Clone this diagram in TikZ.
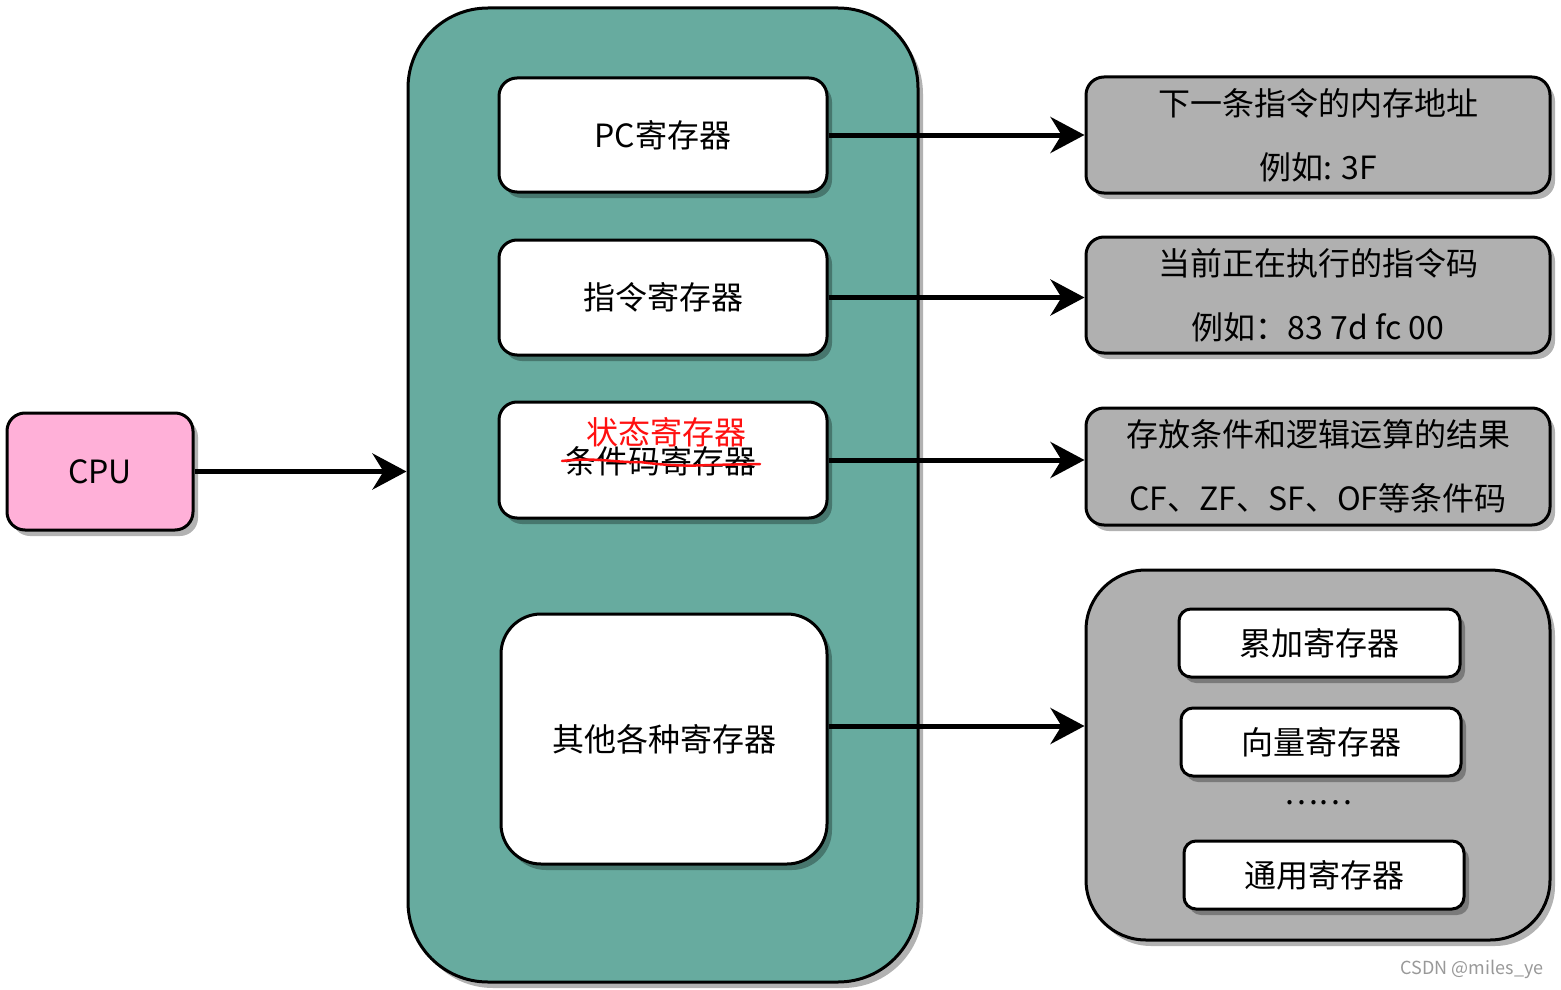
\documentclass[tikz,border=0pt]{standalone}
\usepackage{fontspec}
\setmainfont{Noto Sans CJK SC}
\usetikzlibrary{arrows.meta,shadows}
\definecolor{teal1}{HTML}{67AB9F}
\definecolor{pink1}{HTML}{FFB0D8}
\definecolor{gray1}{HTML}{B0B0B0}
\definecolor{red1}{HTML}{FF1010}
\begin{document}
\begin{tikzpicture}[x=1pt,y=-1pt,
  shd/.style={drop shadow={shadow xshift=5pt,shadow yshift=-6pt,fill=black,opacity=0.3}},
  box/.style={draw=black,line width=3pt,rectangle,rounded corners=#1,shd,inner sep=0pt},
  box/.default=18pt,
  txt/.style={font=\fontsize{32}{64}\selectfont,align=center},
  arr/.style={line width=5pt,-{Stealth[length=34pt,width=36pt,inset=11pt]}}
]
\useasboundingbox[fill=white] (0,0) rectangle (1561,990);
% main block
\node[box=80pt,fill=teal1,minimum width=510pt,minimum height=974pt] (big) at (663,495) {};
\node[box,fill=white,minimum width=328pt,minimum height=114pt,txt] (pc) at (663,135) {PC寄存器};
\node[box,fill=white,minimum width=328pt,minimum height=115pt,txt] (ir) at (663,297.5) {指令寄存器};
\node[box,fill=white,minimum width=328pt,minimum height=116pt] (sr) at (663,460) {};
\node[box=40pt,fill=white,minimum width=326pt,minimum height=250pt,txt] (other) at (664,739) {其他各种寄存器};
\node[txt,text=black,inner sep=0pt] (srold) at (660,461) {条件码寄存器};
\node[txt,text=red1,inner sep=0pt] (srnew) at (666,432) {状态寄存器};
\draw[red1,line width=2.5pt,line cap=round] (562,461) .. controls (600,457) and (615,463) .. (640,462)
  .. controls (670,466) and (690,466) .. (710,465) -- (760,464);
% CPU
\node[box,fill=pink1,minimum width=186pt,minimum height=117pt,txt] (cpu) at (100,471.5) {CPU};
% right side
\node[box,fill=gray1,minimum width=464pt,minimum height=116pt,txt] (r1) at (1318,135) {下一条指令的内存地址\\例如: 3F};
\node[box,fill=gray1,minimum width=464pt,minimum height=116pt,txt] (r2) at (1318,295) {当前正在执行的指令码\\例如：83 7d fc 00};
\node[box,fill=gray1,minimum width=464pt,minimum height=117pt,txt] (r3) at (1318,466.5) {存放条件和逻辑运算的结果\\CF、ZF、SF、OF等条件码};
\node[box=60pt,fill=gray1,minimum width=464pt,minimum height=370pt] (r4) at (1318,755) {};
\node[box=12pt,fill=white,minimum width=281pt,minimum height=68pt,txt] (acc) at (1319.5,643) {累加寄存器};
\node[box=12pt,fill=white,minimum width=280pt,minimum height=68pt,txt] (vec) at (1321,742) {向量寄存器};
\node[txt,inner sep=0pt] (dots) at (1318,803) {……};
\node[box=12pt,fill=white,minimum width=280pt,minimum height=68pt,txt] (gen) at (1324,875) {通用寄存器};
% arrows
\draw[arr] (pc.east) -- (pc.east -| r1.west);
\draw[arr] (ir.east) -- (ir.east -| r2.west);
\draw[arr] (sr.east) -- (sr.east -| r3.west);
\coordinate (oe) at ([yshift=13pt]other.east);
\draw[arr] (oe) -- (oe -| r4.west);
\draw[arr] (cpu.east) -- (cpu.east -| big.west);
% watermark
\node[font=\fontsize{18}{20}\selectfont,text=black!40,inner sep=0pt] (wm) at (1472,969) {CSDN @miles\_ye};
\end{tikzpicture}
\end{document}
